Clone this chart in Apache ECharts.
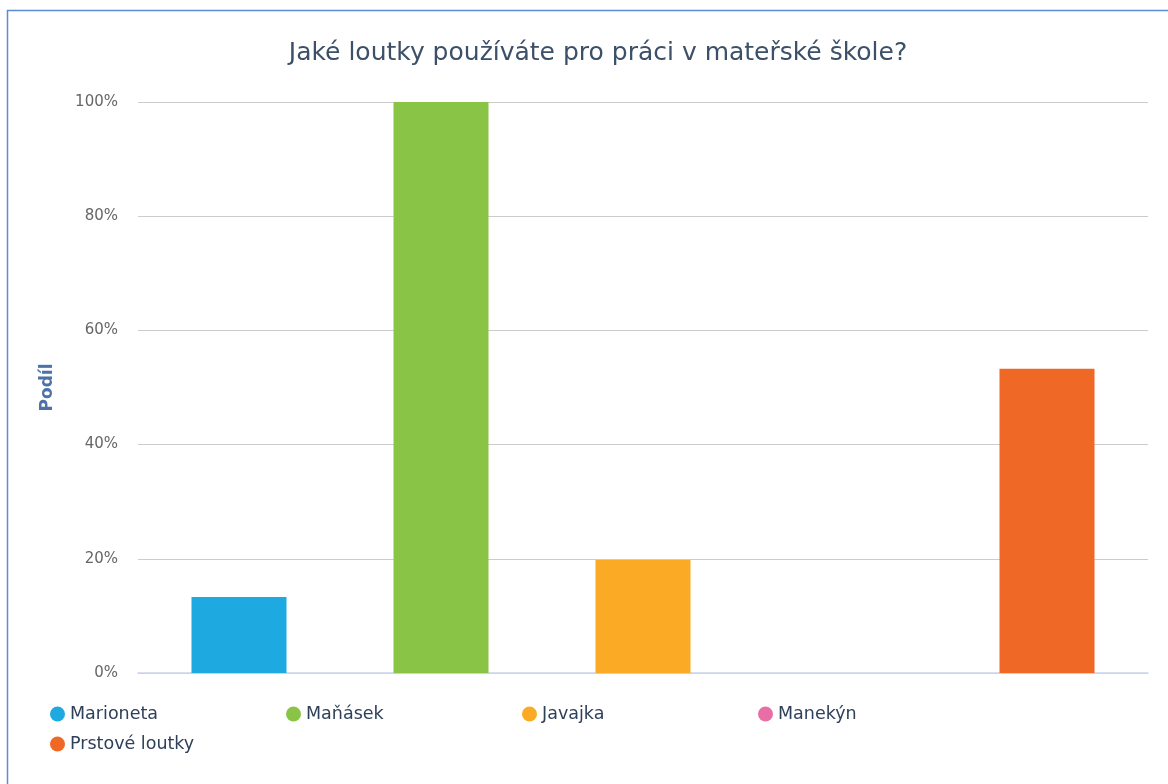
<!DOCTYPE html>
<html>
<head>
<meta charset="utf-8">
<script src="https://cdn.jsdelivr.net/npm/echarts@6/dist/echarts.min.js"></script>
<style>
html, body { margin: 0; padding: 0; background: #fff; }
#chart { width: 1168px; height: 784px; }
</style>
</head>
<body>
<div id="chart"></div>
<script>
// data
var categories = ['Marioneta', 'Maňásek', 'Javajka', 'Manekýn', 'Prstové loutky'];
var values = [13.3, 100, 19.8, 0, 53.3];
var colors = ['#1fa9e1', '#89c446', '#fbaa25', '#e86ea6', '#f06825'];
var yTicks = [0, 20, 40, 60, 80, 100];

var myChart = echarts.init(document.getElementById('chart'));

// one series per puppet so the legend gets one entry each
var series = [];
for (var i = 0; i < categories.length; i++) {
	var d = [];
	for (var j = 0; j < categories.length; j++) {
		d[j] = (i == j) ? values[i] : null;
	}
	series.push({
		name: categories[i],
		type: 'bar',
		stack: 'all',
		barWidth: 95,
		itemStyle: { color: colors[i] },
		data: d
	});
}

var option = {
	animation: false,
	textStyle: { fontFamily: 'DejaVu Sans' },
	title: {
		text: 'Jaké loutky používáte pro práci v mateřské škole?',
		left: 593,
		textAlign: 'center',
		top: 36,
		textStyle: { fontSize: 25, fontWeight: 'normal', color: '#3c5068', fontFamily: 'DejaVu Sans' }
	},
	graphic: [{
		type: 'rect',
		shape: { x: 7.5, y: 10.5, width: 1300, height: 900 },
		style: { fill: 'none', stroke: '#5b8dd0', lineWidth: 1.5 }
	}],
	legend: {
		left: 45,
		top: 699,
		width: 960,
		icon: 'circle',
		itemWidth: 15,
		itemHeight: 15,
		itemGap: 10,
		textStyle: { fontSize: 17.5, color: '#2f4059', width: 206, height: 20, lineHeight: 20, fontFamily: 'DejaVu Sans' },
		data: categories
	},
	grid: { left: 138, right: 20, top: 102, bottom: 111 },
	xAxis: {
		type: 'category',
		data: categories,
		axisLine: { lineStyle: { color: '#ccd6eb', width: 1.5 } },
		axisTick: { alignWithLabel: true, length: 8, lineStyle: { color: '#ccd6eb', width: 1.5 } },
		axisLabel: { show: false }
	},
	yAxis: {
		type: 'value',
		min: yTicks[0],
		max: yTicks[yTicks.length - 1],
		interval: 20,
		name: 'Podíl',
		nameLocation: 'middle',
		nameGap: 82,
		nameTextStyle: { fontSize: 17, fontWeight: 'bold', color: '#4d73a6' },
		axisLabel: { formatter: '{value}%', fontSize: 15, color: '#666', margin: 20 },
		axisLine: { show: false },
		axisTick: { show: false },
		splitLine: { lineStyle: { color: '#cccccc', width: 1.2 } }
	},
	series: series
};
myChart.setOption(option);
</script>
</body>
</html>
